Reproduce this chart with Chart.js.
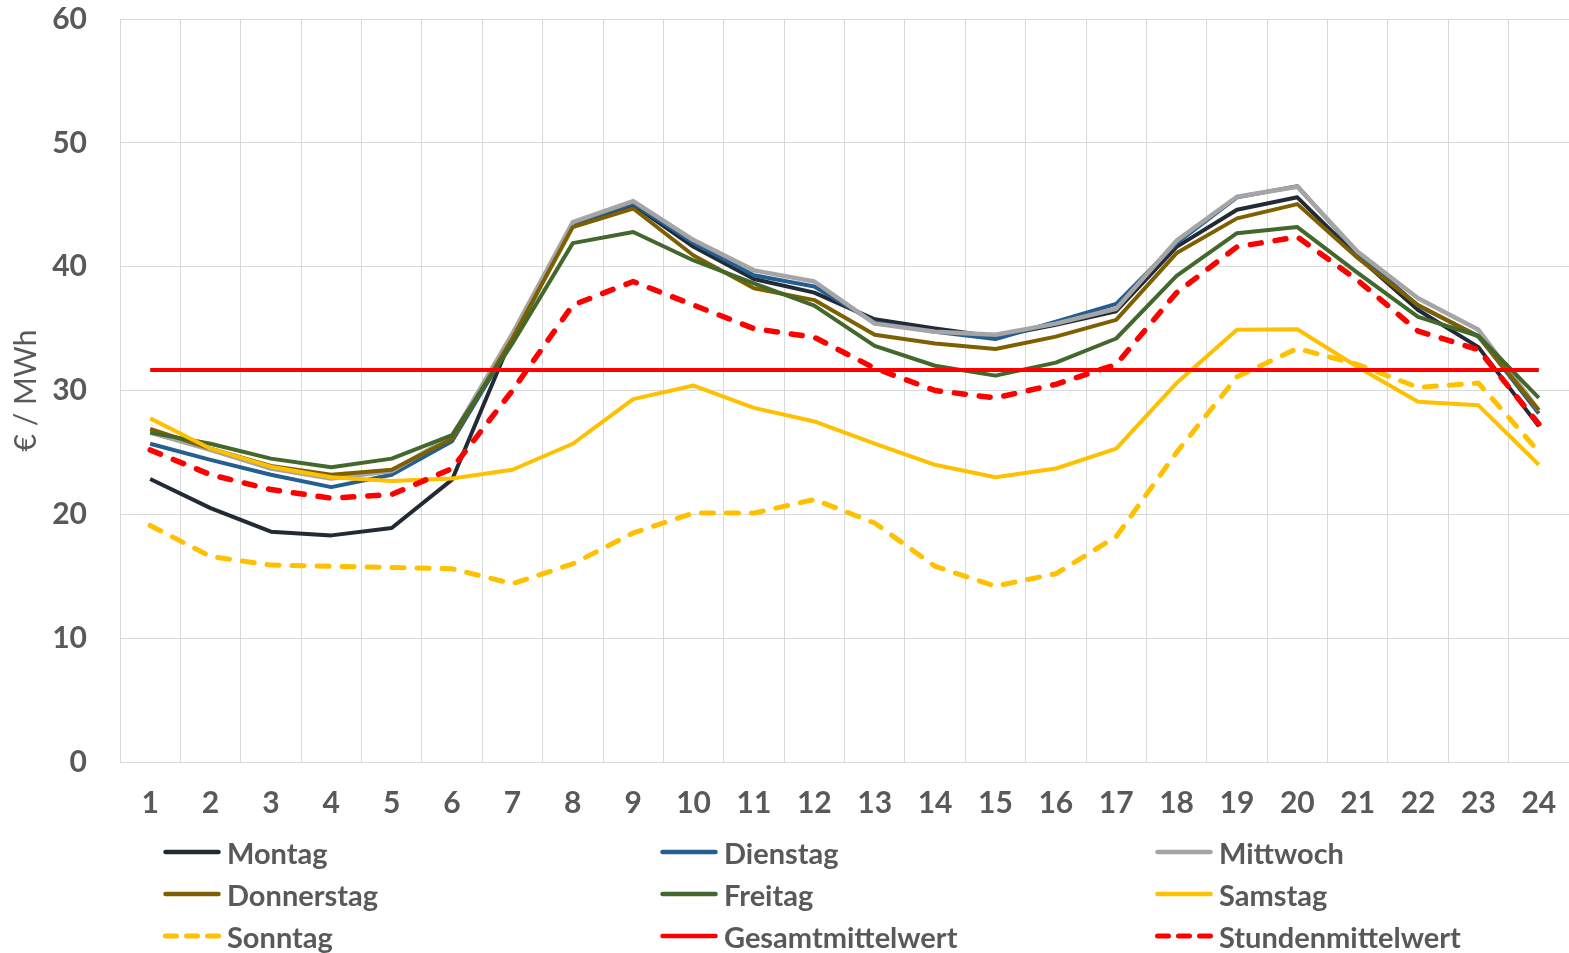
<!DOCTYPE html>
<html>
<head>
<meta charset="utf-8">
<script src="https://cdn.jsdelivr.net/npm/chart.js@4.4.1/dist/chart.umd.min.js"></script>
<style>
  html, body { margin: 0; padding: 0; background: #fff; }
  #wrap { position: relative; width: 1569px; height: 953px; overflow: hidden; }
  #chart { position: absolute; left: 0; top: 0; }
  .leg { position: absolute; display: flex; align-items: center; height: 40px;
         font: 700 29px Lato, sans-serif; color: #595959; white-space: nowrap; }
  .leg svg { margin-right: 6px; flex: none; }
</style>
</head>
<body>
<div id="wrap">
  <canvas id="chart" width="1569" height="953"></canvas>
  <div id="legend"></div>
</div>
<script>
// Hours of the day
const hours = ['1','2','3','4','5','6','7','8','9','10','11','12',
               '13','14','15','16','17','18','19','20','21','22','23','24'];

// Mean hourly prices per weekday (€/MWh)
const montag     = [22.85, 20.5, 18.6, 18.3, 18.9, 22.8, 34.4, 43.4, 45.0, 41.6, 39.0, 37.9,
                    35.75, 35.0, 34.35, 35.3, 36.4, 41.6, 44.6, 45.6, 40.8, 36.5, 33.5, 27.1];
const dienstag   = [25.7, 24.4, 23.2, 22.2, 23.2, 25.9, 34.0, 43.5, 45.1, 41.9, 39.3, 38.4,
                    35.5, 34.75, 34.15, 35.55, 37.0, 41.9, 45.6, 46.5, 41.1, 36.85, 34.4, 28.15];
const mittwoch   = [26.6, 25.2, 23.7, 22.9, 23.5, 26.3, 34.6, 43.6, 45.3, 42.15, 39.7, 38.8,
                    35.4, 34.75, 34.5, 35.4, 36.6, 42.1, 45.65, 46.45, 41.2, 37.45, 34.9, 28.4];
const donnerstag = [26.9, 25.3, 23.9, 23.2, 23.6, 26.1, 34.2, 43.2, 44.7, 40.9, 38.25, 37.3,
                    34.5, 33.8, 33.35, 34.35, 35.7, 41.1, 43.9, 45.05, 40.7, 36.9, 34.35, 28.4];
const freitag    = [26.6, 25.7, 24.5, 23.8, 24.5, 26.4, 33.8, 41.9, 42.8, 40.5, 38.65, 36.85,
                    33.6, 32.0, 31.2, 32.25, 34.2, 39.25, 42.7, 43.2, 39.5, 35.95, 34.4, 29.4];
const samstag    = [27.75, 25.3, 23.85, 23.0, 22.7, 22.9, 23.6, 25.7, 29.3, 30.4, 28.6, 27.5,
                    25.7, 24.0, 23.0, 23.7, 25.3, 30.6, 34.9, 34.95, 31.9, 29.1, 28.8, 24.0];
const sonntag    = [19.1, 16.6, 15.9, 15.8, 15.7, 15.6, 14.4, 16.0, 18.5, 20.1, 20.1, 21.2,
                    19.3, 15.8, 14.2, 15.2, 18.2, 25.0, 31.1, 33.4, 32.1, 30.25, 30.6, 25.05];
const gesamtmittelwert  = [31.65, 31.65, 31.65, 31.65, 31.65, 31.65, 31.65, 31.65, 31.65, 31.65, 31.65, 31.65,
                           31.65, 31.65, 31.65, 31.65, 31.65, 31.65, 31.65, 31.65, 31.65, 31.65, 31.65, 31.65];
const stundenmittelwert = [25.2, 23.2, 22.0, 21.3, 21.6, 23.7, 30.0, 36.9, 38.8, 36.9, 35.0, 34.3,
                           31.8, 30.0, 29.4, 30.5, 32.1, 37.9, 41.6, 42.4, 38.9, 34.8, 33.3, 27.3];

const yTicks = [0, 10, 20, 30, 40, 50, 60];

const series = [
  { label: 'Montag',            data: montag,            color: '#222a35', width: 4,   dash: [] },
  { label: 'Dienstag',          data: dienstag,          color: '#255e91', width: 4,   dash: [] },
  { label: 'Mittwoch',          data: mittwoch,          color: '#a5a5a5', width: 4.5, dash: [] },
  { label: 'Donnerstag',        data: donnerstag,        color: '#7f6000', width: 4,   dash: [] },
  { label: 'Freitag',           data: freitag,           color: '#43682b', width: 4,   dash: [] },
  { label: 'Samstag',           data: samstag,           color: '#ffc000', width: 4,   dash: [] },
  { label: 'Sonntag',           data: sonntag,           color: '#ffc000', width: 5,   dash: [12, 13] },
  { label: 'Gesamtmittelwert',  data: gesamtmittelwert,  color: '#ff0000', width: 4,   dash: [] },
  { label: 'Stundenmittelwert', data: stundenmittelwert, color: '#ff0000', width: 5.5, dash: [11, 14] }
];

const textGray = '#595959';
const gridGray = '#d9d9d9';

// Plot rectangle inside the 1569 x 953 canvas
const plotBox = { left: 120, top: 19, right: 1569, bottom: 762 };

function buildLegend() {
  const colX = [163, 660, 1155];
  const rowY = [852, 894, 936];
  const host = document.getElementById('legend');
  series.forEach((s, i) => {
    const item = document.createElement('div');
    item.className = 'leg';
    item.style.left = colX[i % 3] + 'px';
    item.style.top = (rowY[Math.floor(i / 3)] - 20) + 'px';
    const ns = 'http://www.w3.org/2000/svg';
    const svg = document.createElementNS(ns, 'svg');
    svg.setAttribute('width', '58');
    svg.setAttribute('height', '10');
    const ln = document.createElementNS(ns, 'line');
    ln.setAttribute('x1', '2.5'); ln.setAttribute('x2', '55.5');
    ln.setAttribute('y1', '5');   ln.setAttribute('y2', '5');
    ln.setAttribute('stroke', s.color);
    ln.setAttribute('stroke-width', s.dash.length ? '5' : '4.5');
    ln.setAttribute('stroke-linecap', 'round');
    if (s.dash.length) ln.setAttribute('stroke-dasharray', '11 10');
    svg.appendChild(ln);
    const txt = document.createElement('span');
    txt.textContent = s.label;
    item.appendChild(svg);
    item.appendChild(txt);
    host.appendChild(item);
  });
}

function draw() {
  const n = series.length;
  const datasets = series.map((s, i) => ({
    label: s.label,
    data: s.data,
    borderColor: s.color,
    backgroundColor: s.color,
    borderWidth: s.width,
    borderDash: s.dash,
    borderCapStyle: s.dash.length ? 'round' : 'butt',
    borderJoinStyle: 'round',
    pointRadius: 0,
    tension: 0,
    fill: false,
    order: n - i   // later series are painted on top
  }));

  const tickFont = { family: 'Lato', weight: 'bold', size: 30 };

  const chart = new Chart(document.getElementById('chart'), {
    type: 'line',
    data: { labels: hours, datasets },
    options: {
      responsive: false,
      animation: false,
      events: [],
      layout: { padding: { left: 0, right: 0, top: 19, bottom: 121 } },
      plugins: { legend: { display: false }, tooltip: { enabled: false }, title: { display: false } },
      scales: {
        x: {
          offset: true,
          grid: { offset: true, color: gridGray, lineWidth: 1, drawTicks: false },
          border: { display: true, color: gridGray },
          ticks: { color: textGray, font: tickFont, padding: 23, maxRotation: 0, autoSkip: false },
          afterFit(scale) {
            scale.height = 70;
            scale.paddingLeft = 0;
            scale.paddingRight = 0;
          }
        },
        y: {
          min: 0,
          max: 60,
          afterBuildTicks(scale) { scale.ticks = yTicks.map(v => ({ value: v })); },
          grid: { color: gridGray, lineWidth: 1, drawTicks: false },
          border: { display: true, color: gridGray },
          ticks: { color: textGray, font: tickFont, padding: 33 },
          title: {
            display: true,
            text: '€ / MWh',
            color: textGray,
            font: { family: 'Lato', weight: 'normal', size: 30 },
            padding: { top: 8, bottom: 0 }
          },
          afterFit(scale) {
            scale.width = 120;
            scale.paddingTop = 0;
            scale.paddingBottom = 0;
          }
        }
      }
    }
  });

  // Fine-tune the layout padding so the plot area sits on plotBox
  for (let k = 0; k < 3; k++) {
    const a = chart.chartArea;
    const p = Object.assign({}, chart.config.options.layout.padding);
    const dTop = plotBox.top - a.top;
    const dBottom = a.bottom - plotBox.bottom;
    const dRight = a.right - plotBox.right;
    const dLeft = plotBox.left - a.left;
    if (Math.abs(dTop) < 0.5 && Math.abs(dBottom) < 0.5 && Math.abs(dRight) < 0.5 && Math.abs(dLeft) < 0.5) break;
    p.top += dTop;
    p.bottom += dBottom;
    p.right += dRight;
    p.left += dLeft;
    chart.config.options.layout.padding = p;
    chart.update();
  }
}

buildLegend();
Promise.all([
  document.fonts.load('bold 30px Lato'),
  document.fonts.load('30px Lato')
]).catch(() => {}).then(draw);
</script>
</body>
</html>
